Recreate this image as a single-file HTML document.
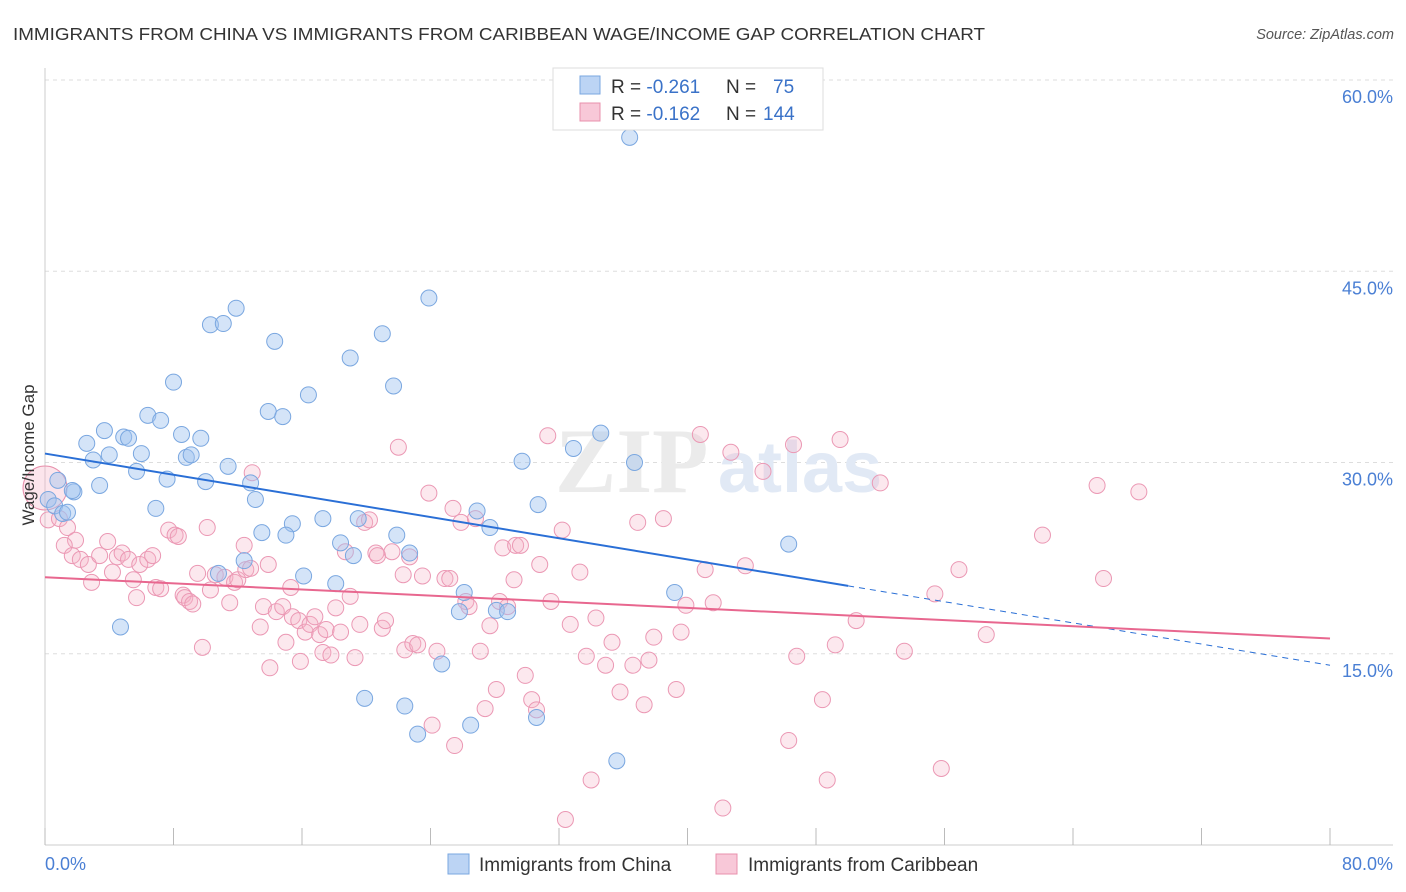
<!DOCTYPE html>
<html><head><meta charset="utf-8"><style>
body{margin:0;background:#fff;font-family:"Liberation Sans",sans-serif;}
svg{display:block}
</style></head><body>
<svg id="chart" width="1406" height="892" xmlns="http://www.w3.org/2000/svg">
<text x="13" y="40" font-size="17.5" fill="#333" textLength="972" lengthAdjust="spacingAndGlyphs">IMMIGRANTS FROM CHINA VS IMMIGRANTS FROM CARIBBEAN WAGE/INCOME GAP CORRELATION CHART</text>
<text x="1394" y="39" font-size="14.5" fill="#555" font-style="italic" text-anchor="end">Source: ZipAtlas.com</text>
<g id="grid"></g>
<g><text x="555" y="492" font-size="92" font-family="Liberation Serif" fill="#ebebeb" font-weight="bold">ZIP</text><text x="718" y="492" font-size="72" fill="#e1e9f5" font-weight="bold">atlas</text></g>
<g id="axes"></g>
<g id="pts"></g>
<g id="trends"></g>
<text transform="translate(34,455) rotate(-90)" font-size="17" fill="#333" text-anchor="middle">Wage/Income Gap</text>
<g>
<rect x="553" y="68" width="270" height="62" fill="#fff" stroke="#ddd"/>
<rect x="580" y="76" width="20" height="18" fill="#bcd4f4" stroke="#7aa7e0"/>
<rect x="580" y="103" width="20" height="18" fill="#f8c8d8" stroke="#e890ac"/>
<text x="611" y="93" font-size="19" fill="#333">R = <tspan fill="#3a72c8">-0.261</tspan><tspan x="726">N = </tspan><tspan x="773" fill="#3a72c8">75</tspan></text>
<text x="611" y="120" font-size="19" fill="#333">R = <tspan fill="#3a72c8">-0.162</tspan><tspan x="726">N = </tspan><tspan x="763" fill="#3a72c8">144</tspan></text>
</g>
<g>
<rect x="448" y="854" width="21" height="20" fill="#bcd4f4" stroke="#7aa7e0"/>
<text x="479" y="871" font-size="19" fill="#333">Immigrants from China</text>
<rect x="716" y="854" width="21" height="20" fill="#f8c8d8" stroke="#e890ac"/>
<text x="748" y="871" font-size="19" fill="#333">Immigrants from Caribbean</text>
</g>
</svg>
<script>
const chinaX=[36.4,23.9,11.9,10.3,11.1,14.3,21.0,19.0,8.0,21.7,16.4,13.9,14.8,6.4,7.2,3.7,2.6,4.9,5.2,8.5,9.7,32.9,34.6,3.0,4.0,6.0,8.8,9.1,11.4,29.7,36.7,5.7,10.0,12.8,7.6,3.4,1.8,0.8,1.7,0.2,0.6,1.1,1.4,13.1,6.9,17.3,15.4,19.5,30.7,26.9,27.7,13.5,15.0,21.9,18.4,46.3,22.7,19.2,12.4,10.8,16.1,18.1,26.1,39.2,25.8,28.1,28.8,4.7,24.7,19.9,22.4,26.5,23.2,30.6,35.6];
const chinaY=[55.5,42.9,42.1,40.8,40.9,39.5,40.1,38.2,36.3,36.0,35.3,34.0,33.6,33.7,33.3,32.5,31.5,32.0,31.9,32.2,31.9,31.1,32.3,30.2,30.6,30.7,30.4,30.6,29.7,30.1,30.0,29.3,28.5,28.4,28.7,28.2,27.7,28.6,27.8,27.1,26.6,26.0,26.1,27.1,26.4,25.6,25.2,25.6,26.7,26.2,24.9,24.5,24.3,24.3,23.7,23.6,22.9,22.7,22.3,21.3,21.1,20.5,19.8,19.8,18.3,18.4,18.3,17.1,14.2,11.5,10.9,9.4,8.7,10.0,6.6];
const caribX=[0.2,0.9,1.4,1.9,1.2,1.7,2.2,2.7,2.9,3.4,3.9,4.2,4.5,4.8,5.2,5.5,5.7,5.9,6.4,6.7,6.9,7.2,7.7,8.1,8.3,8.6,8.7,9.0,9.2,9.5,9.8,10.1,10.3,10.6,11.2,11.5,11.8,12.0,12.4,12.5,12.8,12.9,13.4,13.6,13.9,14.0,14.4,14.8,15.0,15.3,15.4,15.8,15.9,16.2,16.5,16.8,17.1,17.3,17.5,17.8,18.1,18.4,18.7,19.0,19.3,19.6,19.9,20.2,20.6,20.7,21.0,21.2,21.6,22.0,22.3,22.4,22.7,22.9,23.2,23.5,23.9,24.1,24.4,24.9,25.2,25.4,25.5,25.9,26.2,26.4,26.8,27.1,27.4,27.7,28.1,28.3,28.5,28.8,29.2,29.3,29.6,29.9,30.3,30.6,30.8,31.3,31.5,32.2,32.4,32.7,33.3,33.7,34.0,34.3,34.9,35.3,35.8,36.6,36.9,37.3,37.6,37.9,38.5,39.3,39.6,39.9,40.8,41.1,41.6,42.2,42.7,43.6,44.7,46.3,46.8,46.6,48.4,48.7,49.2,49.5,50.5,52.0,53.5,55.8,55.4,56.9,58.6,62.1,65.5,65.9,68.1];
const caribY=[25.5,25.6,24.9,23.9,23.5,22.7,22.4,22.0,20.6,22.7,23.8,21.4,22.6,22.9,22.4,20.8,19.4,22.0,22.4,22.7,20.2,20.1,24.7,24.3,24.2,19.6,19.4,19.1,18.9,21.3,15.5,24.9,20.0,21.2,21.0,19.0,20.6,20.8,23.5,21.6,21.7,29.2,17.1,18.7,22.0,13.9,18.3,18.7,15.9,20.2,17.9,17.6,14.4,16.7,17.3,17.9,16.5,15.1,16.9,14.9,18.6,16.7,23.0,19.5,14.7,17.3,25.3,25.5,22.9,22.7,17.0,17.6,23.0,31.2,21.2,15.3,22.6,15.8,15.7,21.1,27.6,9.4,15.2,20.9,20.9,26.4,7.8,25.3,19.1,18.7,25.6,15.2,10.7,17.2,12.2,19.1,23.3,18.7,20.8,23.5,23.5,13.3,11.4,10.6,22.0,32.1,19.1,24.7,2.0,17.3,21.4,14.8,5.1,17.8,14.1,15.9,12.0,14.1,25.3,11.0,14.5,16.3,25.6,12.2,16.7,18.8,32.2,21.6,19.0,2.9,30.8,21.9,29.3,8.2,14.8,31.4,11.4,5.1,15.7,31.8,17.6,28.4,15.2,6.0,19.7,21.6,16.5,24.3,28.2,20.9,27.7];
const chinaTrend=[30.7,14.1]; // value at x=0 and x=80
const caribTrend=[21.0,16.2];
const chinaSolidEnd=[50];
const xTickLabels=["0.0%","80.0%"];
const yTicks=[15,30,45,60];
const yTickLabels=["15.0%","30.0%","45.0%","60.0%"];
const NS="http://www.w3.org/2000/svg";
const X0=45,X1=1330,Y0=845,PPY=12.75;
const xs=v=>X0+(v/80)*(X1-X0);
const ys=v=>Y0-v*PPY;
function mk(tag,attrs,parent){const e=document.createElementNS(NS,tag);for(const k in attrs)e.setAttribute(k,attrs[k]);parent.appendChild(e);return e;}
const grid=document.getElementById('grid'),axes=document.getElementById('axes'),pts=document.getElementById('pts'),tr=document.getElementById('trends');
yTicks.forEach((t,i)=>{
 const l=mk('line',{x1:X0,x2:1393,y1:ys(t),y2:ys(t),stroke:'#ddd','stroke-dasharray':'4,4'},grid);
 
 
 const tx=mk('text',{x:1393,y:ys(t)+23,'font-size':18,fill:'#4a7fd4','text-anchor':'end'},axes);
 tx.textContent=yTickLabels[i];
 
 
});
mk('line',{x1:X0,x2:X0,y1:68,y2:Y0,stroke:'#ccc'},axes);
mk('line',{x1:X0,x2:1393,y1:Y0,y2:Y0,stroke:'#ccc'},axes);
for(let i=0;i<=10;i++){const x=xs(i*8);const t=mk('line',{x1:x,x2:x,y1:828,y2:Y0,stroke:'#bbb'},axes);}
const xl0=mk('text',{x:45,y:870,'font-size':18,fill:'#4a7fd4'},axes);xl0.textContent=xTickLabels[0];


const xl1=mk('text',{x:1393,y:870,'font-size':18,fill:'#4a7fd4','text-anchor':'end'},axes);xl1.textContent=xTickLabels[1];


const big=mk('circle',{cx:xs(0),cy:ys(28.0),r:22,fill:'rgba(245,180,200,0.35)',stroke:'#e890ac','stroke-width':1},pts);


caribX.forEach((v,i)=>{const c=mk('circle',{cx:xs(v),cy:ys(caribY[i]),r:8,fill:'rgba(245,180,200,0.3)',stroke:'#eb98b4','stroke-width':1},pts);
 
 });
chinaX.forEach((v,i)=>{const c=mk('circle',{cx:xs(v),cy:ys(chinaY[i]),r:8,fill:'rgba(160,196,240,0.45)',stroke:'#7aa7e0','stroke-width':1},pts);
 
 });
const tv=(tr2,x)=>tr2[0]+(tr2[1]-tr2[0])*x/80;
const xEnd=chinaSolidEnd[0];
const l1=mk('line',{x1:xs(0),y1:ys(tv(chinaTrend,0)),x2:xs(xEnd),y2:ys(tv(chinaTrend,xEnd)),stroke:'#2a6fd6','stroke-width':2},tr);


const l2=mk('line',{x1:xs(xEnd),y1:ys(tv(chinaTrend,xEnd)),x2:xs(80),y2:ys(tv(chinaTrend,80)),stroke:'#2a6fd6','stroke-width':1,'stroke-dasharray':'6,5'},tr);


const l3=mk('line',{x1:xs(0),y1:ys(tv(caribTrend,0)),x2:xs(80),y2:ys(tv(caribTrend,80)),stroke:'#e8678f','stroke-width':2},tr);


</script>
</body></html>
